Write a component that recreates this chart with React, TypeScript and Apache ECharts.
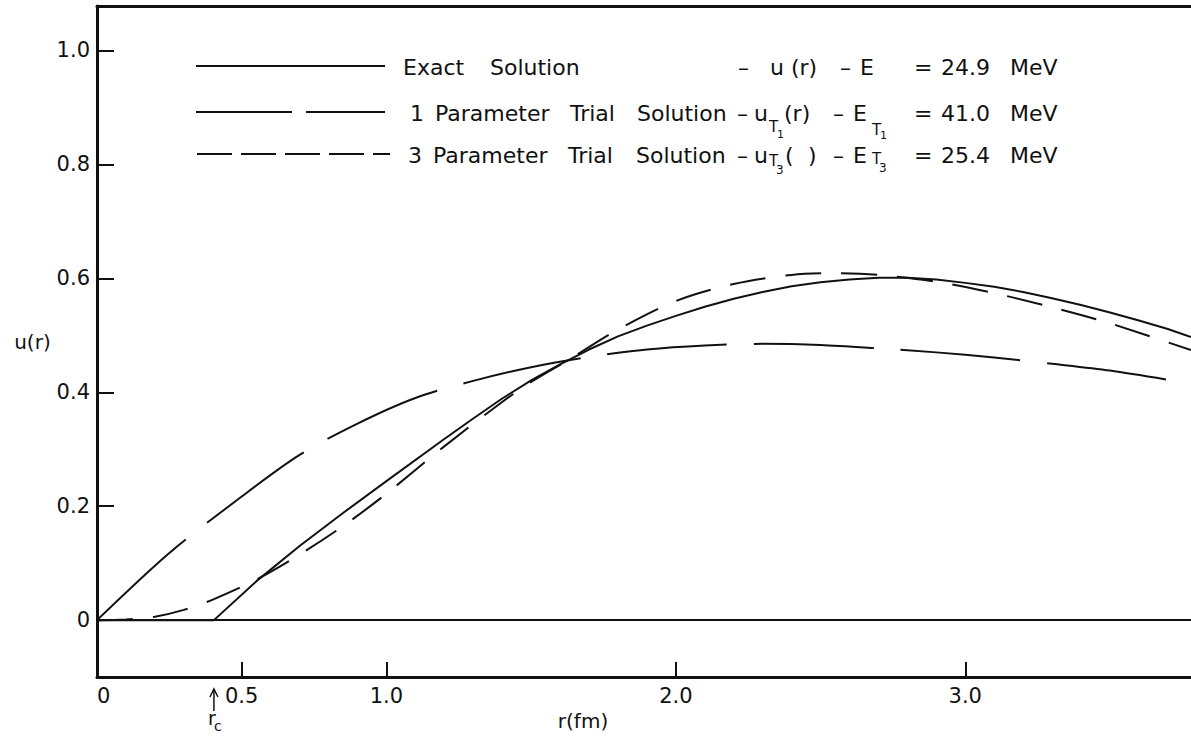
import React, { useEffect, useRef } from "react";
import * as echarts from "echarts";

// ---- data (r in fm, u(r)) ----
// exact solution: zero inside the hard core r_c, then rises (drawn unsmoothed so the kink at r_c stays sharp)
const exactR = [0, 0.404, 0.55, 0.7, 0.85, 1.0, 1.2, 1.3, 1.4, 1.5, 1.6, 1.7, 1.8, 1.9, 2.0, 2.1, 2.2, 2.3, 2.4, 2.5, 2.6, 2.7, 2.8, 2.9, 3.0, 3.1, 3.2, 3.3, 3.4, 3.5, 3.6, 3.7, 3.78];
const exactU = [0, 0, 0.068, 0.13, 0.188, 0.244, 0.318, 0.354, 0.389, 0.421, 0.449, 0.475, 0.498, 0.517, 0.534, 0.55, 0.564, 0.576, 0.586, 0.593, 0.598, 0.601, 0.601, 0.598, 0.592, 0.585, 0.576, 0.565, 0.553, 0.54, 0.526, 0.511, 0.497];

const oneParamR = [0, 0.25, 0.5, 0.7, 0.9, 1.1, 1.3, 1.5, 1.7, 1.9, 2.1, 2.3, 2.5, 2.7, 2.9, 3.1, 3.3, 3.5, 3.78];
const oneParamU = [0, 0.118, 0.217, 0.29, 0.345, 0.39, 0.42, 0.444, 0.462, 0.475, 0.482, 0.485, 0.483, 0.477, 0.47, 0.461, 0.45, 0.438, 0.415];

const threeParamR = [0, 0.1, 0.2, 0.3, 0.4, 0.55, 0.7, 0.85, 1.0, 1.2, 1.4, 1.5, 1.63, 1.8, 2.0, 2.2, 2.4, 2.55, 2.7, 2.9, 3.1, 3.3, 3.5, 3.78];
const threeParamU = [0, 0.001, 0.006, 0.018, 0.036, 0.071, 0.115, 0.165, 0.222, 0.305, 0.383, 0.418, 0.457, 0.51, 0.56, 0.59, 0.606, 0.609, 0.606, 0.594, 0.574, 0.549, 0.521, 0.474];

const xLabelValues = [0, 0.5, 1.0, 2.0, 3.0];
const xTickValues = [0.5, 1.0, 2.0, 3.0];
const yTickValues = [0, 0.2, 0.4, 0.6, 0.8, 1.0];
const RC = 0.404; // hard-core radius r_c

const energies = ["24.9", "41.0", "25.4"];

const X_MIN = 0;
const X_MAX = 3.78;
const Y_MIN = -0.1;
const Y_MAX = 1.078;

const FONT = '"DejaVu Sans", "Liberation Sans", sans-serif';
const INK = "#111";

const zip = (a: number[], b: number[]) => a.map((v, i) => [v, b[i]]);

function txt(text: string, x: number, y: number, size = 22, align = "left") {
  return {
    type: "text",
    x,
    y,
    silent: true,
    style: {
      text,
      fill: INK,
      fontSize: size,
      fontFamily: FONT,
      align,
      verticalAlign: "middle",
    },
  };
}

function seg(x1: number, y1: number, x2: number, y2: number, dash?: number[], w = 2) {
  return {
    type: "line",
    silent: true,
    shape: { x1, y1, x2, y2 },
    style: { stroke: INK, lineWidth: w, lineDash: dash || null },
  };
}

export default function App() {
  const ref = useRef<HTMLDivElement>(null);

  useEffect(() => {
    const chart = echarts.init(ref.current!, null, { renderer: "svg" });

    const axisLabelStyle = { color: INK, fontSize: 21, fontFamily: FONT };

    chart.setOption({
      animation: false,
      backgroundColor: "#fff",
      grid: { left: 97, right: 0, top: 6, bottom: 52, containLabel: false },
      xAxis: [
        {
          type: "value",
          min: X_MIN,
          max: X_MAX,
          position: "bottom",
          name: "r(fm)",
          nameLocation: "middle",
          nameGap: 27,
          nameTextStyle: { color: INK, fontSize: 20, fontFamily: FONT, padding: [0, 122, 0, 0] },
          axisLine: { show: true, onZero: false, lineStyle: { color: INK, width: 3 } },
          axisTick: { show: true, inside: true, length: 15, customValues: xTickValues, lineStyle: { color: INK, width: 2 } },
          axisLabel: {
            ...axisLabelStyle,
            margin: 8,
            alignMinLabel: "left",
            customValues: xLabelValues,
            formatter: (v: number) => (v === 0 ? "0" : v.toFixed(1)),
          },
          splitLine: { show: false },
        },
        {
          type: "value",
          min: X_MIN,
          max: X_MAX,
          position: "top",
          axisLine: { show: true, onZero: false, lineStyle: { color: INK, width: 3 } },
          axisTick: { show: false },
          axisLabel: { show: false },
          splitLine: { show: false },
        },
      ],
      yAxis: {
        type: "value",
        min: Y_MIN,
        max: Y_MAX,
        name: "u(r)",
        nameLocation: "middle",
        nameRotate: 0,
        nameGap: 44,
        nameTextStyle: { color: INK, fontSize: 20, fontFamily: FONT, padding: [14, 0, 0, 0] },
        axisLine: { show: true, onZero: false, lineStyle: { color: INK, width: 3 } },
        axisTick: { show: true, inside: true, length: 17, customValues: yTickValues, lineStyle: { color: INK, width: 2 } },
        axisLabel: {
          ...axisLabelStyle,
          margin: 7,
          customValues: yTickValues,
          formatter: (v: number) => (v === 0 ? "0" : v.toFixed(1)),
        },
        splitLine: { show: false },
      },
      series: [
        {
          name: "Exact Solution",
          type: "line",
          data: zip(exactR, exactU),
          showSymbol: false,
          symbol: "none",
          smooth: false,
          lineStyle: { color: INK, width: 2, type: "solid", join: "round" },
          markLine: {
            silent: true,
            symbol: "none",
            label: { show: false },
            lineStyle: { color: INK, width: 2, type: "solid" },
            data: [{ yAxis: 0 }],
          },
        },
        {
          name: "1 Parameter Trial Solution",
          type: "line",
          data: zip(oneParamR, oneParamU),
          showSymbol: false,
          symbol: "none",
          smooth: 0.3,
          lineStyle: { color: INK, width: 2, type: [120, 27] },
        },
        {
          name: "3 Parameter Trial Solution",
          type: "line",
          data: zip(threeParamR, threeParamU),
          showSymbol: false,
          symbol: "none",
          smooth: 0.3,
          lineStyle: { color: INK, width: 2, type: [36, 20] },
        },
      ],
    });

    const rcX = chart.convertToPixel({ xAxisIndex: 0 }, RC) as number;

    const graphics: any[] = [
      // legend samples
      seg(196, 66, 385, 66),
      seg(196, 112, 385, 112, [96, 14]),
      seg(197, 154, 390, 154, [35, 9]),
      // row 1
      txt("Exact", 403, 67),
      txt("Solution", 490, 67),
      txt("–", 738, 67),
      txt("u (r)", 770, 67),
      txt("–", 840, 67),
      txt("E", 860, 67),
      txt("=", 914, 67),
      txt(energies[0], 941, 67),
      txt("MeV", 1010, 67),
      // row 2
      txt("1", 410, 113),
      txt("Parameter", 435, 113),
      txt("Trial", 570, 113),
      txt("Solution", 637, 113),
      txt("–", 737, 113),
      txt("u", 754, 113),
      txt("T", 769, 127, 15),
      txt("1", 777, 134, 11),
      txt("(r)", 784, 113),
      txt("–", 833, 113),
      txt("E", 853, 113),
      txt("T", 872, 130, 15),
      txt("1", 880, 135, 11),
      txt("=", 914, 113),
      txt(energies[1], 941, 113),
      txt("MeV", 1010, 113),
      // row 3
      txt("3", 408, 155),
      txt("Parameter", 433, 155),
      txt("Trial", 568, 155),
      txt("Solution", 636, 155),
      txt("–", 737, 155),
      txt("u", 754, 155),
      txt("T", 769, 161, 15),
      txt("3", 776, 170, 12),
      txt("(", 785, 155),
      txt(")", 808, 155),
      txt("–", 833, 155),
      txt("E", 853, 155),
      txt("T", 872, 159, 15),
      txt("3", 879, 168, 12),
      txt("=", 914, 155),
      txt(energies[2], 941, 155),
      txt("MeV", 1010, 155),
      // r_c arrow below the axis
      seg(rcX, 711, rcX, 689, undefined, 1.5),
      {
        type: "polyline",
        silent: true,
        shape: { points: [[rcX - 4, 697], [rcX, 689], [rcX + 4, 697]] },
        style: { stroke: INK, lineWidth: 1.5, fill: "none" },
      },
      txt("r", rcX - 6, 718, 19),
      txt("c", rcX + 0, 726, 14),
    ];

    chart.setOption({ graphic: graphics });

    return () => {
      chart.dispose();
    };
  }, []);

  return (
    <div
      ref={ref}
      style={{ position: "absolute", left: 0, top: 0, width: 1191, height: 736, background: "#fff" }}
    />
  );
}
